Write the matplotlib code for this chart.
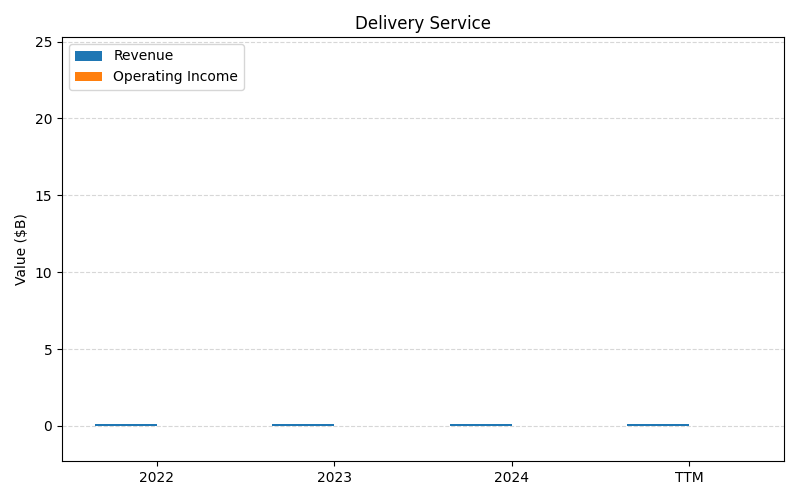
import matplotlib
matplotlib.use("Agg")
import matplotlib.pyplot as plt
import numpy as np

categories = ["2022", "2023", "2024", "TTM"]
revenue = [0.12, 0.12, 0.12, 0.12]
operating_income = [-0.01, -0.01, -0.01, -0.01]

fig, ax = plt.subplots(figsize=(8, 5), dpi=100)
x = np.arange(len(categories))
w = 0.35
ax.bar(x - w/2, revenue, w, label="Revenue", color="#1f77b4")
ax.bar(x + w/2, operating_income, w, label="Operating Income", color="#ff7f0e")
ax.set_xticks(x)
ax.set_xticklabels(categories)
ax.set_ylim(-2.28, 25.3)
ax.set_ylabel("Value ($B)")
ax.set_title("Delivery Service")
ax.yaxis.grid(True, linestyle="--", alpha=0.5)
ax.set_axisbelow(True)
ax.legend(loc="upper left")
fig.subplots_adjust(left=0.0775, right=0.98, top=0.926, bottom=0.078)
fig.savefig("out.png")
